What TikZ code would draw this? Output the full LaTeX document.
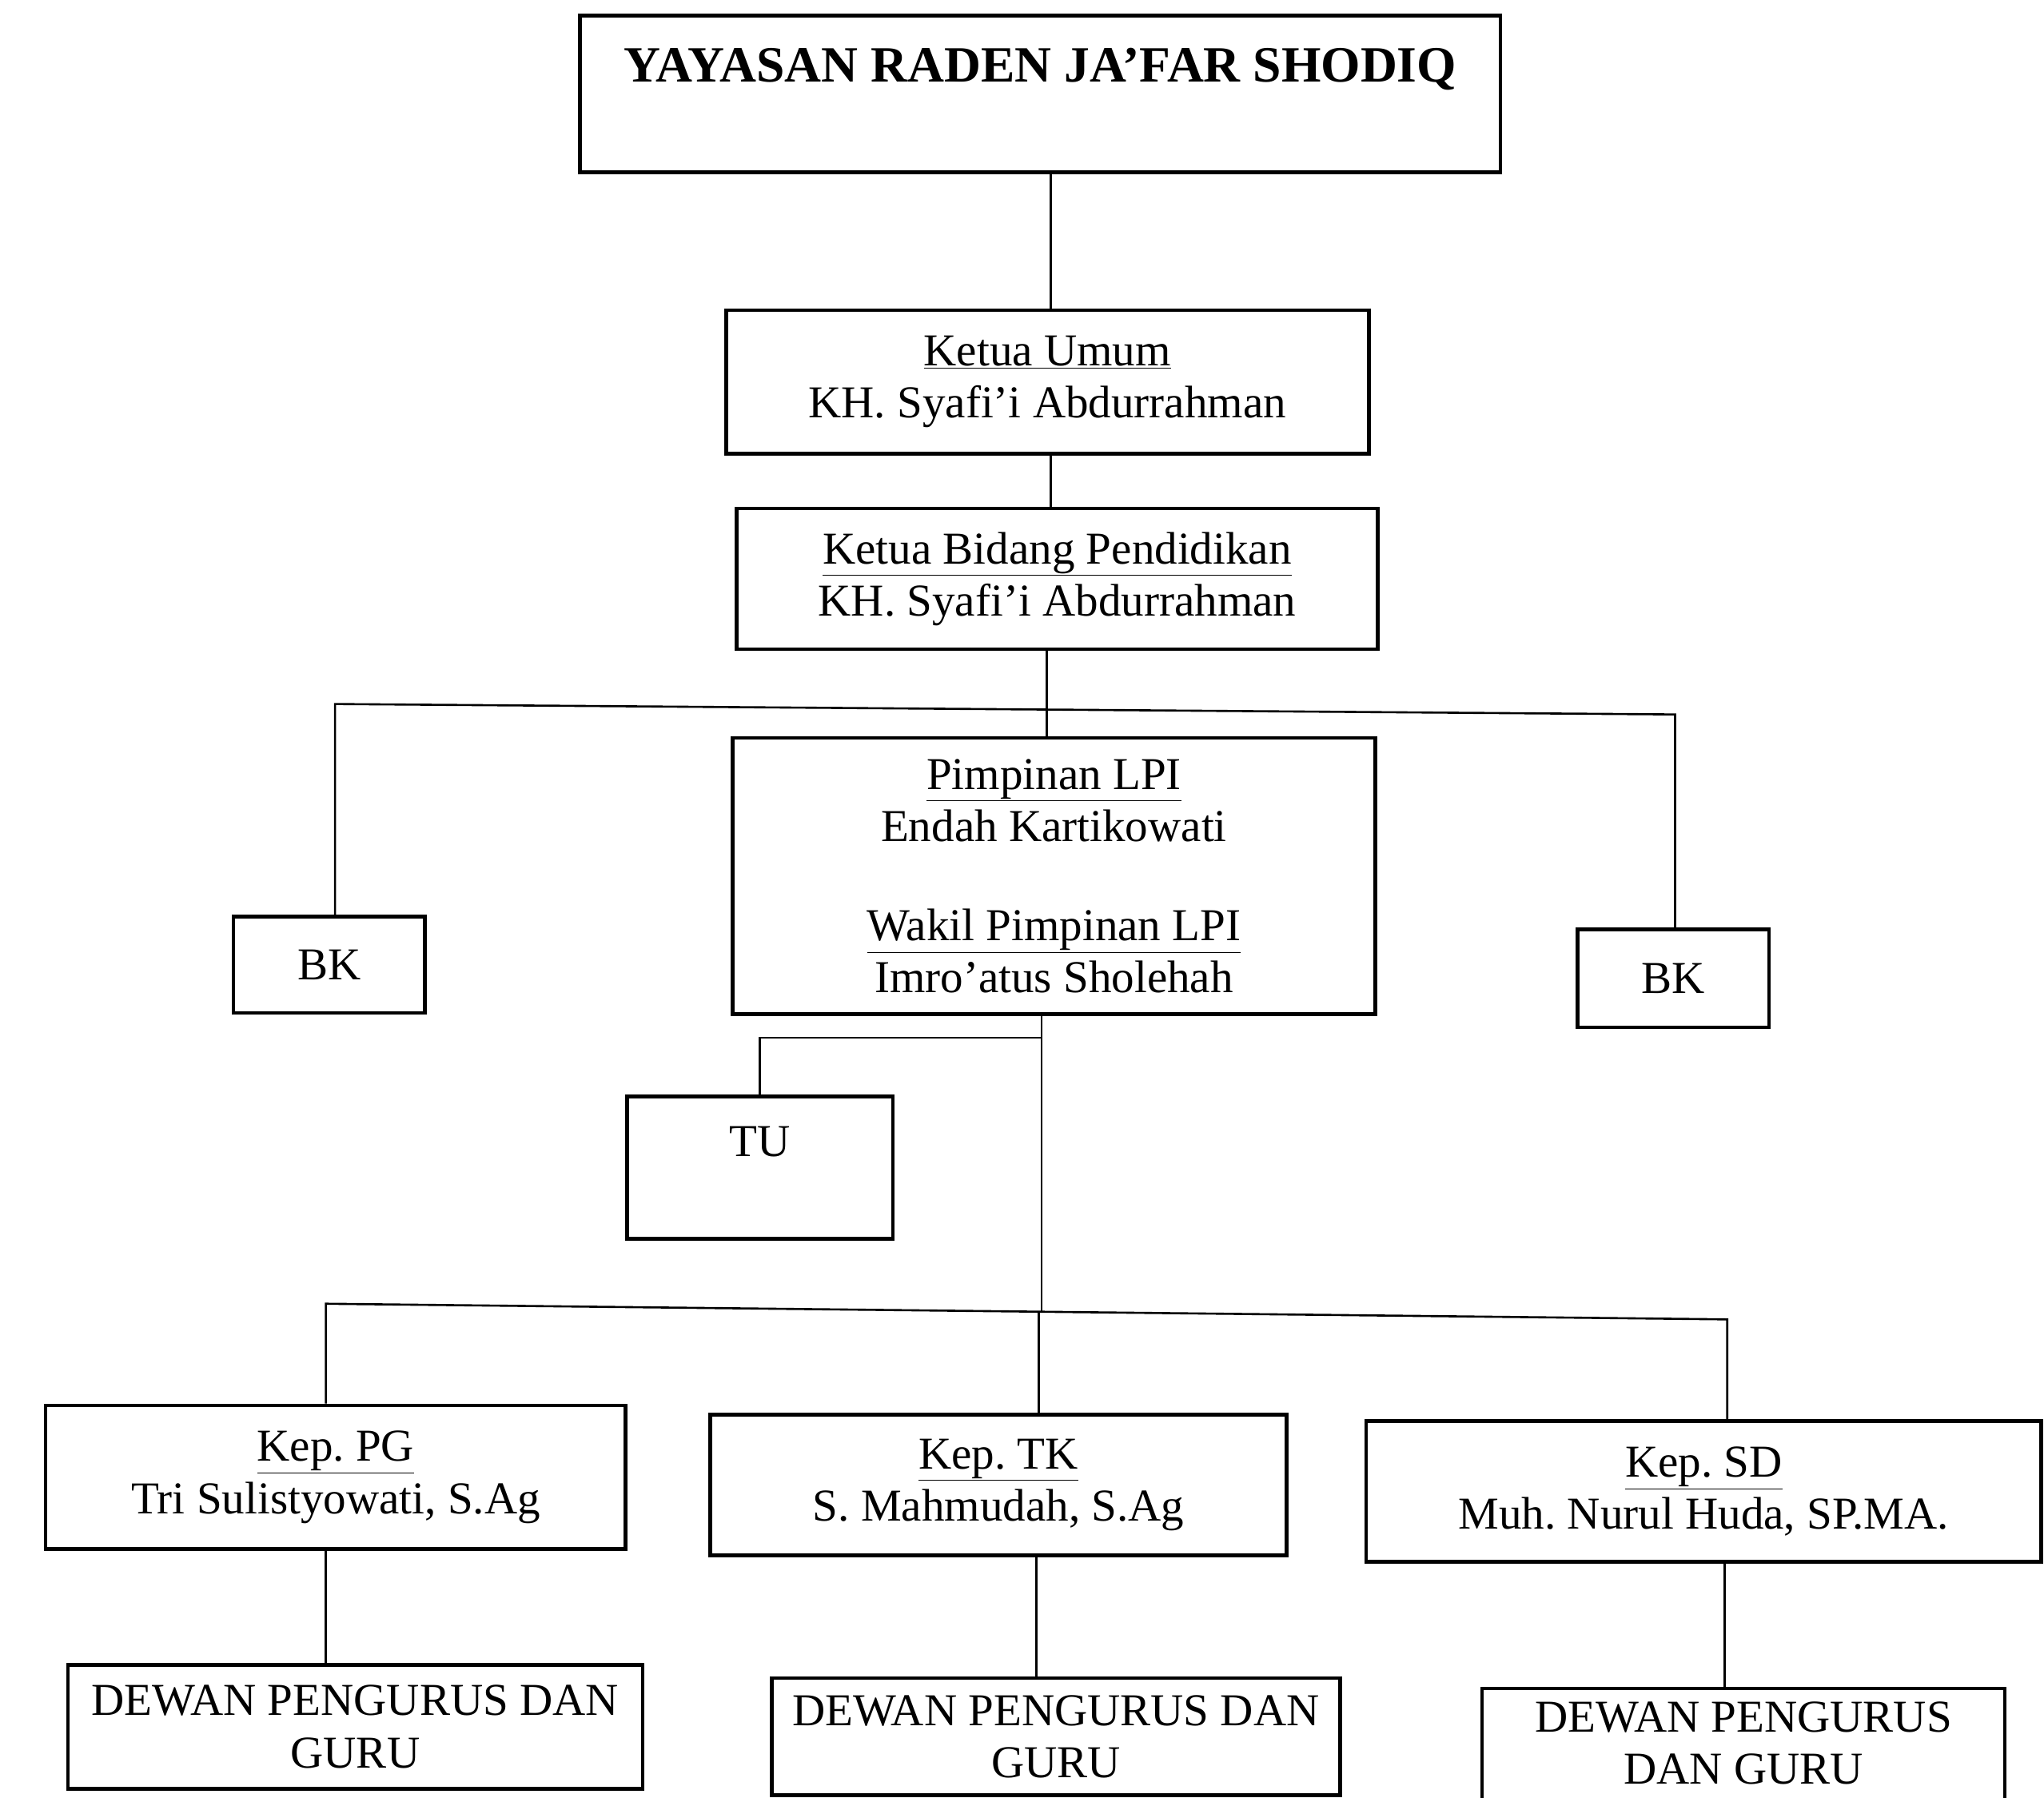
\documentclass[tikz,border=0pt]{standalone}
\usepackage{fontspec}
\setmainfont{Liberation Serif}
\begin{document}
\frenchspacing
\begin{tikzpicture}[x=1pt,y=-1pt,
  box/.style={draw, line width=2.8pt, inner sep=0pt, align=center, font=\fontsize{35}{40}\selectfont},
  txt/.style={inner sep=0pt, align=center, font=\fontsize{35}{40}\selectfont},
  conn/.style={line width=1.6pt}]
\useasboundingbox[fill=white] (0,0) rectangle (1568,1379);
% boxes
\node[box, minimum width=706pt, minimum height=120pt, text height=28pt, text depth=46pt,
      font=\bfseries\fontsize{39}{45}\selectfont] (top) at (798,72) {YAYASAN RADEN JA’FAR SHODIQ};
\node[box, minimum width=493pt, minimum height=110pt] (ku) at (803.5,293)
  {\underline{Ketua Umum}\\KH. Syafi’i Abdurrahman};
\node[box, minimum width=492pt, minimum height=108pt] (kb) at (811,444)
  {\underline{Ketua Bidang Pendidikan}\\KH. Syafi’i Abdurrahman};
\node[box, minimum width=493pt, minimum height=212pt] (pimp) at (808.5,672)
  {\underline{Pimpinan LPI}\\Endah Kartikowati\\[36pt]\underline{Wakil Pimpinan LPI}\\Imro’atus Sholehah};
\node[box, minimum width=147pt, minimum height=74pt] (bkl) at (252.5,740) {BK};
\node[box, minimum width=147pt, minimum height=75pt] (bkr) at (1283.5,750.5) {BK};
\node[box, minimum width=204pt, minimum height=109pt, text height=24pt, text depth=41pt] (tu) at (583,895.5) {TU};
\node[box, minimum width=445pt, minimum height=110pt] (pg) at (257.5,1133)
  {\underline{Kep. PG}\\Tri Sulistyowati, S.Ag};
\node[box, minimum width=442pt, minimum height=108pt] (tk) at (766,1139)
  {\underline{Kep. TK}\\S. Mahmudah, S.Ag};
\node[box, minimum width=518pt, minimum height=108pt] (sd) at (1307,1144)
  {\underline{Kep. SD}\\Muh. Nurul Huda, SP.MA.};
\node[box, minimum width=441pt, minimum height=95pt] (dpg) at (272.5,1324.5)
  {DEWAN PENGURUS DAN\\GURU};
\node[box, minimum width=436pt, minimum height=90pt] (dtk) at (810,1332)
  {DEWAN PENGURUS DAN\\GURU};
\node[box, minimum width=401pt, minimum height=105pt] (dsd) at (1337.5,1347.5) {};
\node[txt] (dsdt) at (1337.5,1337) {DEWAN PENGURUS\\DAN GURU};
% connector coordinates
\coordinate (xa) at (806,0);
\coordinate (xb) at (803,0);
\coordinate (barl) at (257,540);
\coordinate (barr) at (1285,548);
\coordinate (xc) at (799,0);
\coordinate (tuj) at (799,796);
\coordinate (bbl) at (250,1000);
\coordinate (bbm) at (797,1006);
\coordinate (bbr) at (1325,1012);
\coordinate (xd) at (250,0);
\coordinate (xe) at (795,0);
\coordinate (xf) at (1323,0);
% connectors
\draw[conn] (top.south -| xa) -- (ku.north -| xa);
\draw[conn] (ku.south -| xa) -- (kb.north -| xa);
\draw[conn] (kb.south -| xb) -- (pimp.north -| xb);
\draw[conn] (bkl.north -| barl) -- (barl) -- (barr) -- (bkr.north -| barr);
\draw[conn] (pimp.south -| xc) -- (bbm -| xc);
\draw[conn] (tuj) -- (tuj -| tu.north) -- (tu.north);
\draw[conn] (pg.north -| bbl) -- (bbl) -- (bbr) -- (sd.north -| bbr);
\draw[conn] (bbm) -- (tk.north -| bbm);
\draw[conn] (pg.south -| xd) -- (dpg.north -| xd);
\draw[conn] (tk.south -| xe) -- (dtk.north -| xe);
\draw[conn] (sd.south -| xf) -- (dsd.north -| xf);
\end{tikzpicture}
\end{document}
